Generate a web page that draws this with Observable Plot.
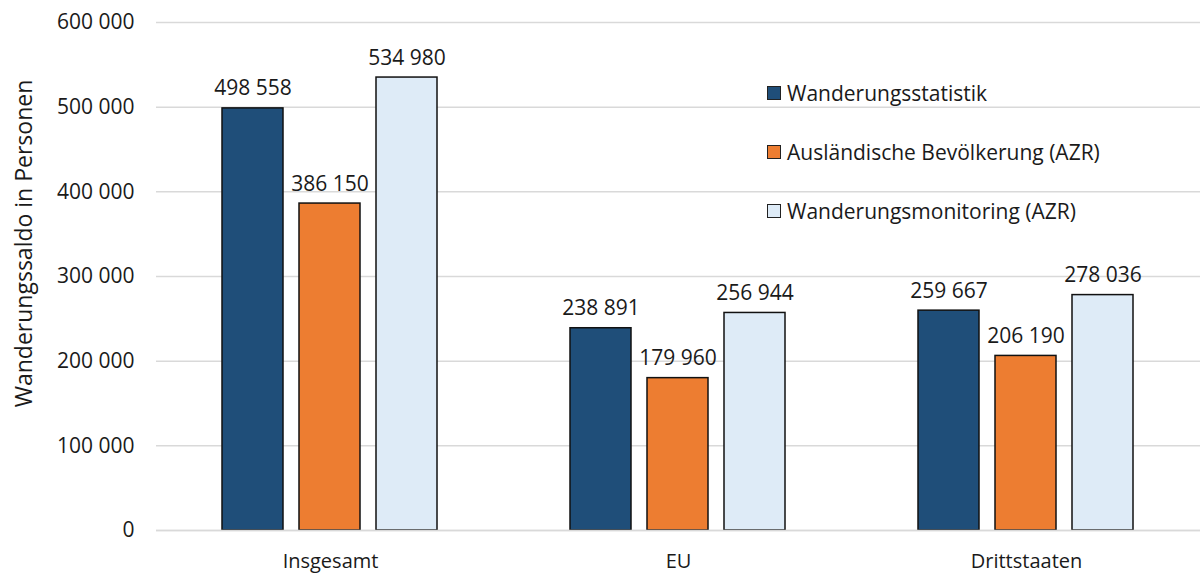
<!DOCTYPE html>
<html><head><meta charset="utf-8">
<script src="https://cdn.jsdelivr.net/npm/d3@7"></script>
<script src="https://cdn.jsdelivr.net/npm/@observablehq/plot@0.6"></script>
<style>
body{margin:0;background:#fff;font-family:"Open Sans",sans-serif;color:#1a1a1a;}
#wrap{position:relative;width:1201px;height:574px;}
#legend{position:absolute;left:767px;top:78px;font-size:21px;line-height:30px;}
#legend .row{display:flex;align-items:center;height:30px;margin-bottom:29px;white-space:nowrap;}
#legend .sw{width:12px;height:12px;border:1.5px solid #222;margin-right:6px;flex:none;}
</style></head><body><div id="wrap"></div>
<script>
const categories = ["Insgesamt", "EU", "Drittstaaten"];
const series = ["Wanderungsstatistik", "Ausländische Bevölkerung (AZR)", "Wanderungsmonitoring (AZR)"];
const wanderungsstatistik = [498558, 238891, 259667];
const auslaendischeBevoelkerung = [386150, 179960, 206190];
const wanderungsmonitoring = [534980, 256944, 278036];
const colors = ["#1F4E79", "#ED7D31", "#DEEBF7"];
const yTicks = [0, 100000, 200000, 300000, 400000, 500000, 600000];
const yLabel = "Wanderungssaldo in Personen";

const values = [wanderungsstatistik, auslaendischeBevoelkerung, wanderungsmonitoring];
const data = [];
categories.forEach((c, i) => series.forEach((s, j) => data.push({cat: c, series: s, value: values[j][i]})));

const fmt = d3.formatLocale({decimal: ",", thousands: " ", grouping: [3], currency: ["", ""]}).format(",d");

const chart = Plot.plot({
  width: 1201,
  height: 574,
  marginLeft: 155,
  marginRight: 0,
  marginTop: 22,
  marginBottom: 44,
  style: {fontFamily: "Open Sans, sans-serif", color: "#1a1a1a", background: "#fff"},
  fx: {domain: categories, padding: 0, label: null},
  x: {domain: series, paddingInner: 0.205, paddingOuter: 0.846, axis: null},
  y: {domain: [0, 600000]},
  color: {domain: series, range: colors},
  marks: [
    Plot.ruleY(yTicks, {stroke: "#d9d9d9", strokeWidth: 1.5}),
    Plot.barY(data, {fx: "cat", x: "series", y: "value", fill: "series", stroke: "#111", strokeWidth: 1.5}),
    Plot.ruleY([0], {stroke: "#d9d9d9", strokeWidth: 1.5}),
    Plot.text(data, {fx: "cat", x: "series", y: "value", text: d => fmt(d.value), dy: -13, lineAnchor: "bottom", fontSize: 21, fill: "#1a1a1a"}),
    Plot.axisY({ticks: yTicks, tickFormat: fmt, tickSize: 0, tickPadding: 22, fontSize: 21, label: null}),
    Plot.text([yLabel], {fx: () => categories[0], text: d => d, frameAnchor: "left", rotate: -90, dx: -132, dy: -33, textAnchor: "middle", lineAnchor: "middle", fontSize: 23, fill: "#1a1a1a"}),
    Plot.axisFx({anchor: "bottom", tickSize: 0, tickPadding: 23, fontSize: 20, label: null})
  ]
});
document.getElementById("wrap").appendChild(chart);

const legend = document.createElement("div");
legend.id = "legend";
series.forEach((s, j) => {
  const row = document.createElement("div");
  row.className = "row";
  const sw = document.createElement("span");
  sw.className = "sw";
  sw.style.background = colors[j];
  const t = document.createElement("span");
  t.textContent = s;
  row.appendChild(sw);
  row.appendChild(t);
  legend.appendChild(row);
});
document.getElementById("wrap").appendChild(legend);
</script></body></html>
